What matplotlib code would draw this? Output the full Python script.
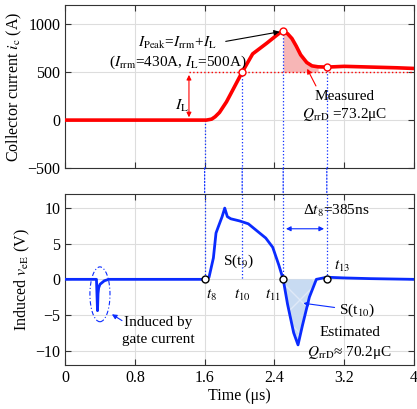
import matplotlib
matplotlib.use('Agg')
from matplotlib import pyplot as plt
from matplotlib.patches import Ellipse, ConnectionPatch

plt.rcParams['font.family'] = ['Liberation Serif', 'DejaVu Serif']
plt.rcParams['mathtext.fontset'] = 'stix'
plt.rcParams['font.size'] = 11.5

# collector current (us, A)
ic_t = [0, 1.62, 1.68, 1.72, 1.77, 1.85, 1.92, 2.03, 2.15, 2.31, 2.42, 2.47, 2.5,
        2.55, 2.6, 2.65, 2.7, 2.77, 2.83, 2.9, 3.0, 3.2, 3.4, 3.6, 3.8, 4.0]
ic_v = [0, 0, 10, 35, 80, 190, 310, 500, 690, 800, 880, 915, 925,
        900, 850, 770, 680, 600, 565, 555, 552, 560, 555, 550, 545, 538]

# induced voltage (us, V)
ve_t = [0, 0.36, 0.372, 0.378, 0.385, 0.40, 0.45, 0.5, 1.6, 1.65, 1.7, 1.73, 1.76,
        1.8, 1.83, 1.86, 1.9, 2.0, 2.1, 2.2, 2.3, 2.38, 2.45, 2.5, 2.55, 2.62, 2.67,
        2.72, 2.8, 2.88, 3.0, 3.2, 3.5, 4.0]
ve_v = [0, 0, -4.4, -2.0, -1.2, -0.7, -0.2, 0, 0, 0.3, 3.0, 6.5, 7.5,
        8.8, 10, 8.8, 8.5, 8.2, 7.8, 6.8, 5.8, 4.5, 2.0, 0, -3.5, -7.5, -9.2,
        -6.5, -2.5, 0, 0.3, 0.2, 0.1, 0]

# marked instants t8, t10, t11, t13
mark_t = [1.6, 2.03, 2.5, 3.0]
mark_ic = [0, 500, 925, 552]
top_marks = [1, 2, 3]
bot_marks = [0, 2, 3]
t_labels = ['$t_8$', '$t_{10}$', '$t_{11}$']
t_label_x = [1.68, 2.03, 2.38]

IL = 500
blue = '#0a2bff'

fig = plt.figure(figsize=(4.17, 4.09), dpi=100)
ax1 = fig.add_axes([0.156, 0.589, 0.837, 0.399])
ax2 = fig.add_axes([0.156, 0.108, 0.837, 0.418])

for ax in (ax1, ax2):
    ax.set_xlim(0, 4)
    ax.set_xticks([0, 0.8, 1.6, 2.4, 3.2, 4])
    ax.grid(color='#dddddd', linewidth=0.8)
    ax.tick_params(direction='in', top=True, right=True, length=4, color='#333333')
    for s in ax.spines.values():
        s.set_color('#333333')
    ax.set_axisbelow(True)

# ---- top panel
ax1.set_ylim(-500, 1200)
ax1.set_yticks([-500, 0, 500, 1000])
ax1.set_xticklabels([])
ax1.set_ylabel('Collector current $i_{\\rm c}$ (A)', labelpad=2)

sel = [i for i, t in enumerate(ic_t) if 2.5 <= t <= 2.9]
ax1.fill_between([ic_t[i] for i in sel], [IL] * len(sel), [ic_v[i] for i in sel],
                 color='#f7b6b6', linewidth=0, zorder=1)
ax1.plot([1.42, 4], [IL, IL], color='red', linestyle=':', linewidth=1, zorder=2)
for i, x in enumerate(mark_t):
    ax1.plot([x, x], [mark_ic[i], -500], color=blue, linestyle=':', linewidth=0.9, zorder=2)
ax1.plot(ic_t, ic_v, color='red', linewidth=2.6, zorder=3)
ax1.plot([mark_t[i] for i in top_marks], [mark_ic[i] for i in top_marks], 'o',
         mfc='white', mec='red', ms=5, zorder=4)

ax1.annotate('', xy=(1.42, 0), xytext=(1.42, IL),
             arrowprops=dict(arrowstyle='<|-|>', color='red', lw=0.8, mutation_scale=7))
ax1.text(1.42, 150, '$I_{\\rm L}$', ha='right', va='center', fontsize=11.5)
ax1.text(1.29, 800, '$I_{\\rm Peak}$=$I_{\\rm rrm}$+$I_{\\rm L}$', ha='center', va='center', fontsize=11)
ax1.text(1.29, 600, '($I_{\\rm rrm}$=430A, $I_{\\rm L}$=500A)', ha='center', va='center', fontsize=11)
ax1.annotate('', xy=(2.49, 925), xytext=(1.81, 815),
             arrowprops=dict(arrowstyle='-|>', color='black', lw=0.8, mutation_scale=8))
ax1.text(3.2, 250, 'Measured', ha='center', va='center', fontsize=11)
ax1.text(3.2, 55, '$Q_{\\rm rrD}$ =73.2μC', ha='center', va='center', fontsize=11)
ax1.annotate('', xy=(2.76, 560), xytext=(2.89, 330),
             arrowprops=dict(arrowstyle='-|>', color='red', lw=0.8, mutation_scale=7))

# ---- bottom panel
ax2.set_ylim(-12, 12)
ax2.set_yticks([-10, -5, 0, 5, 10])
ax2.set_xticklabels(['0', '0.8', '1.6', '2.4', '3.2', '4'])
ax2.set_ylabel('Induced $v_{\\rm eE}$ (V)', labelpad=2)
ax2.set_xlabel('Time (μs)', labelpad=2)

sel = [i for i, t in enumerate(ve_t) if 2.5 <= t <= 2.88]
ax2.fill_between([ve_t[i] for i in sel], 0, [ve_v[i] for i in sel],
                 facecolor='#c8dbf2', edgecolor='#dfe9f7', hatch='x', linewidth=0, zorder=1)
for x in mark_t:
    ax2.plot([x, x], [12, 0], color=blue, linestyle=':', linewidth=0.9, zorder=2)
ax2.plot(ve_t, ve_v, color=blue, linewidth=2.0, zorder=3)
ax2.plot([mark_t[i] for i in bot_marks], [0] * len(bot_marks), 'o',
         mfc='white', mec='black', ms=5, zorder=4)

for x, lab in zip(t_label_x, t_labels):
    ax2.text(x, -2.3, lab, ha='center', va='center', fontsize=11)
ax2.text(3.17, 1.8, '$t_{13}$', ha='center', va='center', fontsize=11)
ax2.text(1.98, 2.5, 'S(t$_9$)', ha='center', va='center', fontsize=11)
ax2.text(3.11, 9.6, 'Δ$t_8$=385ns', ha='center', va='center', fontsize=11)
ax2.annotate('', xy=(2.5, 7.1), xytext=(3.0, 7.1),
             arrowprops=dict(arrowstyle='<|-|>', color=blue, lw=0.8, mutation_scale=7))
ax2.text(3.14, -4.3, 'S(t$_{10}$)', ha='left', va='center', fontsize=11)
ax2.annotate('', xy=(2.7, -3.3), xytext=(3.12, -4.0),
             arrowprops=dict(arrowstyle='-|>', color=blue, lw=0.8, mutation_scale=7))
ax2.text(3.26, -7.4, 'Estimated', ha='center', va='center', fontsize=11)
ax2.text(3.26, -10.2, '$Q_{\\rm rrD}$≈ 70.2μC', ha='center', va='center', fontsize=11)

ax2.add_patch(Ellipse((0.4, -2.1), 0.23, 7.7, fill=False, edgecolor=blue,
                      linestyle=(0, (4, 2, 1, 2)), linewidth=0.8))
ax2.text(1.07, -6.0, 'Induced by', ha='center', va='center', fontsize=11)
ax2.text(1.07, -8.4, 'gate current', ha='center', va='center', fontsize=11)
ax2.annotate('', xy=(0.51, -4.7), xytext=(0.68, -6.0),
             arrowprops=dict(arrowstyle='-|>', color=blue, lw=0.8, mutation_scale=7))

# dotted verticals bridging the gap between panels
for x in mark_t:
    con = ConnectionPatch(xyA=(x, -500), coordsA=ax1.transData,
                          xyB=(x, 12), coordsB=ax2.transData,
                          color=blue, linestyle=':', linewidth=0.9)
    fig.add_artist(con)

fig.savefig('out.png', dpi=100)
